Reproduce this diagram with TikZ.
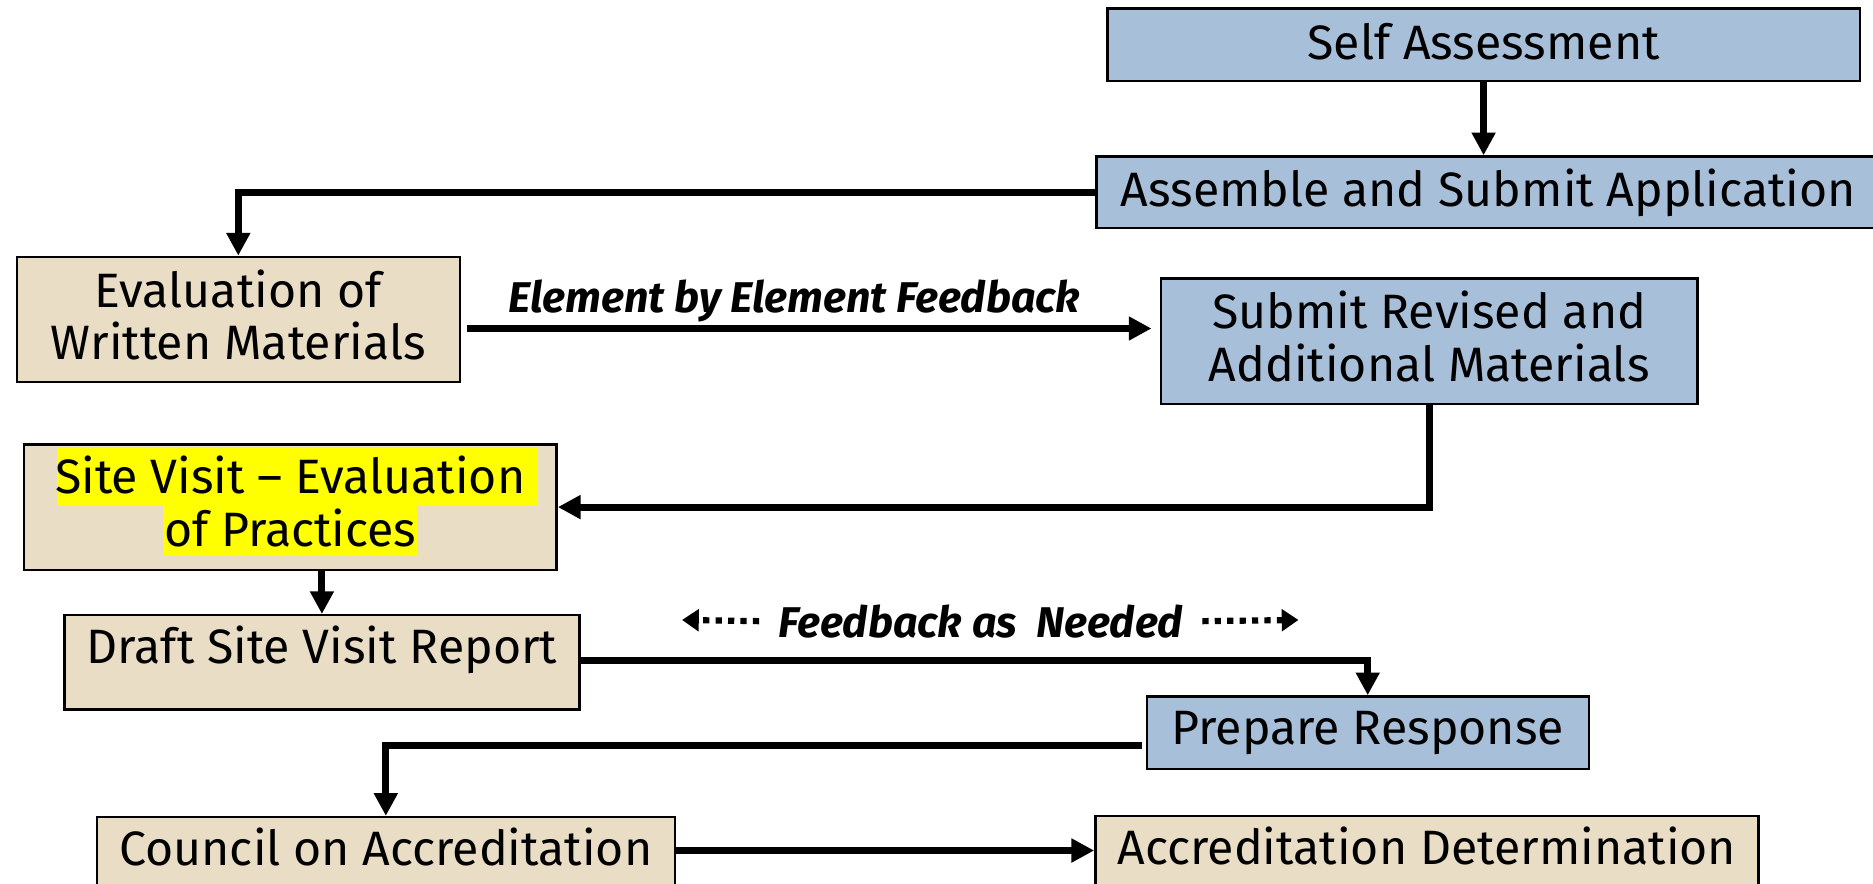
\documentclass[tikz,border=0pt]{standalone}
\usepackage{fontspec}
\setmainfont{Fira Sans}
\usetikzlibrary{arrows.meta}
\definecolor{boxblue}{RGB}{167,191,217}
\definecolor{boxbeige}{RGB}{233,221,198}
\definecolor{hiyellow}{RGB}{255,255,0}
\tikzset{
  stepbox/.style={draw=black, line width=1pt, inner sep=0pt, align=center, font=\fontsize{20.2}{22}\selectfont},
  bluebox/.style={stepbox, fill=boxblue},
  beigebox/.style={stepbox, fill=boxbeige},
  conn/.style={line width=2.9pt, -{Triangle[length=9.5pt,width=9.5pt]}},
  dotconn/.style={line width=2.6pt, dash pattern=on 2.6pt off 2.6pt, -{Triangle[length=7pt,width=9pt]}},
  lbl/.style={font=\fontsize{18}{20}\selectfont\bfseries\itshape, inner sep=0pt}
}
\begin{document}
\begin{tikzpicture}[x=0.5pt,y=-0.5pt]
\useasboundingbox (0,0) rectangle (1568,740);
\clip (0,0) rectangle (1568,740);
% boxes
\node[bluebox, minimum width=315pt, minimum height=30.5pt, text depth=3pt] (self) at (1242,37.5) {Self Assessment};
\node[bluebox, minimum width=328pt, minimum height=30pt] (assemble) at (1246,161) {Assemble and Submit Application};
\node[beigebox, minimum width=185.5pt, minimum height=52.5pt, text depth=4pt] (evalw) at (199.5,267.5) {Evaluation of\\Written Materials};
\node[bluebox, minimum width=224.5pt, minimum height=52.5pt, text depth=4pt] (revised) at (1196.5,285.5) {Submit Revised and\\Additional Materials};
\node[beigebox, minimum width=223pt, minimum height=52.5pt] (site) at (243,424.5) {};
\node[fill=hiyellow, inner sep=0pt, minimum width=201.5pt, minimum height=24pt, anchor=north west] (hl1) at (47,375) {};
\node[fill=hiyellow, inner sep=0pt, minimum width=106.5pt, minimum height=21.5pt, anchor=north west] (hl2) at (136,422) {};
\node[stepbox, draw=none, anchor=center] (sitet) at (243,420) {Site Visit -- Evaluation\\of Practices};
\node[beigebox, minimum width=215.5pt, minimum height=39.5pt, text depth=15pt] (draft) at (269.5,554.5) {Draft Site Visit Report};
\node[bluebox, minimum width=185pt, minimum height=30.5pt] (prepare) at (1145,613.5) {Prepare Response};
\node[beigebox, minimum width=242pt, minimum height=55pt, text depth=30pt] (council) at (323,739) {Council on Accreditation};
\node[beigebox, minimum width=277.5pt, minimum height=55pt, text depth=30pt] (accdet) at (1194.5,738) {Accreditation Determination};
% labels
\node[lbl] (eef) at (665,252) {Element by Element Feedback};
\node[lbl] (fb) at (821,520) {Feedback as\ \ Needed};
\coordinate (fbL) at (571,519);
\coordinate (fbR) at (1087,519);
% row coordinates
\coordinate (r275) at (0,275);
\coordinate (r553) at (0,553);
\coordinate (r624) at (0,624);
\coordinate (r712) at (0,712);
% connectors
\draw[conn] (self.south) -- (assemble.north -| self.south);
\draw[conn] (assemble.west) -| (evalw.north);
\draw[conn] ([xshift=2.5pt]evalw.east |- r275) -- ([xshift=-3.5pt]revised.west |- r275);
\draw[conn] (revised.south) |- (site.east);
\draw[conn] (draft.north |- site.south) -- (draft.north);
\draw[conn] (draft.east |- r553) -| (prepare.north);
\draw[conn] ([xshift=-1.5pt]prepare.west |- r624) -| (council.north);
\draw[conn] (council.east |- r712) -- (accdet.west |- r712);
\draw[dotconn] ([xshift=-8pt]fb.west) -- (fbL);
\draw[dotconn] ([xshift=8pt]fb.east) -- (fbR);
\end{tikzpicture}
\end{document}
